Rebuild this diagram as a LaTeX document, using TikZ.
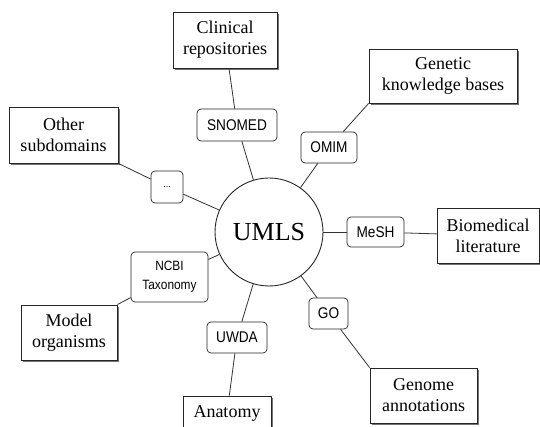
\documentclass[tikz,border=0pt]{standalone}
\usepackage{fontspec}
\setmainfont{Liberation Serif}
\newfontfamily\labfont[FakeStretch=0.88]{Liberation Sans}
\usetikzlibrary{shadows}
\begin{document}
\begin{tikzpicture}[x=1pt,y=-1pt,
  bigbox/.style={draw=black!85, line width=0.9pt, fill=white, align=center,
    font=\fontsize{18}{21}\selectfont, inner sep=0pt,
    drop shadow={shadow xshift=1.8pt, shadow yshift=-1.8pt, fill=black!55, opacity=1}},
  smallbox/.style={draw=black!85, line width=0.7pt, rounded corners=4pt, fill=white,
    align=center, inner sep=0pt, font=\labfont\fontsize{15.5}{17}\selectfont},
  hub/.style={draw=black!85, line width=0.9pt, circle, fill=white, inner sep=0pt,
    minimum size=108pt, font=\fontsize{26}{30}\selectfont},
  link/.style={draw=black!80, line width=0.8pt}]
\fill[white] (0,0) rectangle (540,427);
\useasboundingbox (0,0) rectangle (540,427);

% hub
\node[hub] (umls) at (269,232) {UMLS};

% domain boxes
\node[bigbox, minimum width=104pt, minimum height=56pt] (clinical) at (225,40) {Clinical\\repositories};
\node[bigbox, minimum width=148pt, minimum height=54pt] (genetic) at (443,76) {Genetic\\knowledge bases};
\node[bigbox, minimum width=109pt, minimum height=56pt] (other) at (63.5,135) {Other\\subdomains};
\node[bigbox, minimum width=102pt, minimum height=55pt] (biomed) at (488,235.5) {Biomedical\\literature};
\node[bigbox, minimum width=96pt, minimum height=55pt] (model) at (69,332.5) {Model\\organisms};
\node[bigbox, minimum width=88pt, minimum height=34pt] (anatomy) at (227,413) {Anatomy};
\node[bigbox, minimum width=107pt, minimum height=55pt] (genome) at (423.5,395.5) {Genome\\annotations};

% vocabulary boxes
\node[smallbox, minimum width=80pt, minimum height=32pt] (snomed) at (237,125) {SNOMED};
\node[smallbox, minimum width=56pt, minimum height=31pt] (omim) at (329,147.5) {OMIM};
\node[smallbox, minimum width=32pt, minimum height=32pt, font=\labfont\fontsize{10}{12}\selectfont] (dots) at (167,187) {...};
\node[smallbox, minimum width=57pt, minimum height=30pt] (mesh) at (375.5,232) {MeSH};
\node[smallbox, minimum width=77pt, minimum height=50pt, font=\labfont\fontsize{13.5}{19}\selectfont] (ncbi) at (169.5,277) {NCBI\\Taxonomy};
\node[smallbox, minimum width=60pt, minimum height=31pt] (uwda) at (237,337.5) {UWDA};
\node[smallbox, minimum width=39pt, minimum height=31pt] (go) at (328.5,313.5) {GO};

% connectors
\draw[link] (umls) -- (snomed);
\draw[link] (snomed) -- (clinical);
\draw[link] (umls) -- (omim);
\draw[link] (omim) -- (genetic.south west);
\draw[link] (umls) -- (dots);
\draw[link] (dots) -- (other.south east);
\draw[link] (umls) -- (mesh);
\draw[link] (mesh) -- (biomed);
\draw[link] (umls) -- (ncbi);
\draw[link] (ncbi) -- (model.north east);
\draw[link] (umls) -- (uwda);
\draw[link] (uwda) -- (anatomy);
\draw[link] (umls) -- (go);
\draw[link] (go) -- (genome.north west);
\end{tikzpicture}
\end{document}
